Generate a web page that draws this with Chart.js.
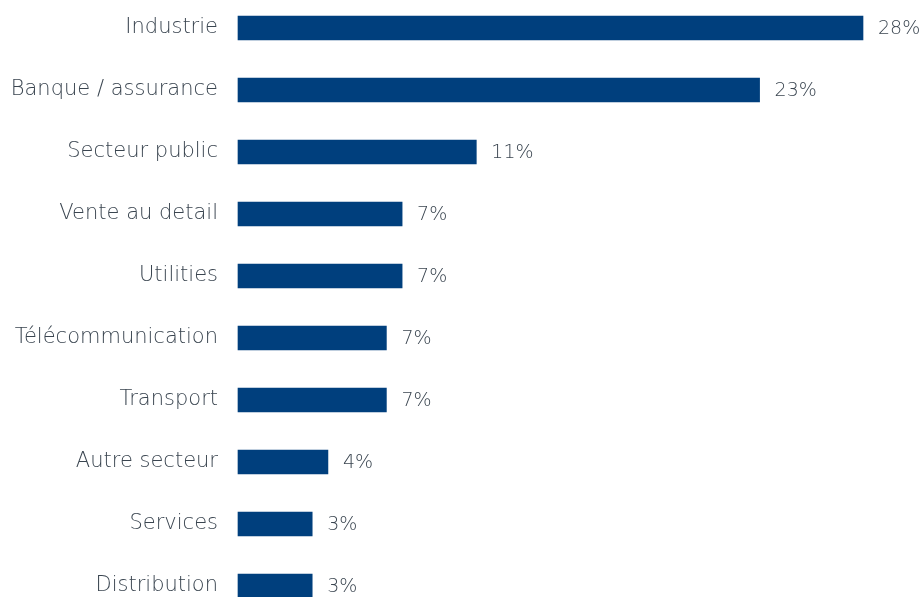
<!DOCTYPE html>
<html>
<head>
<meta charset="utf-8">
<script src="https://cdn.jsdelivr.net/npm/chart.js@4"></script>
<style>
    html, body { margin: 0; padding: 0; background: #fff; overflow: hidden; }
    #wrap { width: 921px; height: 597px; }
</style>
</head>
<body>
<div id="wrap"><canvas id="sector-bar-chart"></canvas></div>
<script>
var sectors = ['Industrie', 'Banque / assurance', 'Secteur public', 'Vente au detail', 'Utilities', 'Télécommunication', 'Transport', 'Autre secteur', 'Services', 'Distribution'];
var shares = [27.8, 23.2, 10.6, 7.3, 7.3, 6.6, 6.6, 4.0, 3.3, 3.3];
var shareLabels = ['28%', '23%', '11%', '7%', '7%', '7%', '7%', '4%', '3%', '3%'];

var textColor = '#3a4550';
var fontFamily = '"DejaVu Sans", sans-serif';

// no datalabels plugin offline, so draw the values by hand
var valueLabels = {
    id: 'valueLabels',
    afterDatasetsDraw: function (chart) {
        var ctx = chart.ctx;
        var meta = chart.getDatasetMeta(0);
        ctx.save();
        ctx.fillStyle = textColor;
        ctx.font = '300 19px ' + fontFamily;
        ctx.textAlign = 'left';
        ctx.textBaseline = 'middle';
        meta.data.forEach(function (bar, i) {
            ctx.fillText(shareLabels[i], bar.x + 15, bar.y + 1);
        });
        ctx.restore();
    }
};

var layout = {
    type: 'bar',
    data: {
        labels: sectors,
        datasets: [{
            label: 'part',
            data: shares,
            backgroundColor: '#003f7d',
            barThickness: 24,
            clip: false,
        }]
    },
    options: {
        indexAxis: 'y',
        responsive: true,
        maintainAspectRatio: false,
        animation: false,
        layout: {
            padding: { top: 28, bottom: 11, right: 58, left: 0 }
        },
        plugins: {
            legend: { display: false },
            tooltip: { enabled: false },
        },
        scales: {
            x: {
                min: 0,
                max: 27.8,
                display: false,
            },
            y: {
                offset: false,
                border: { display: false },
                grid: { display: false, drawTicks: false },
                ticks: {
                    padding: 20,
                    color: textColor,
                    font: { family: fontFamily, size: 21, weight: 300 },
                },
                afterFit: function (scale) {
                    scale.width = 238;
                    scale.paddingTop = 0;
                    scale.paddingBottom = 0;
                }
            },
        },
    },
    plugins: [valueLabels]
};

new Chart(document.getElementById('sector-bar-chart'), layout);
</script>
</body>
</html>
